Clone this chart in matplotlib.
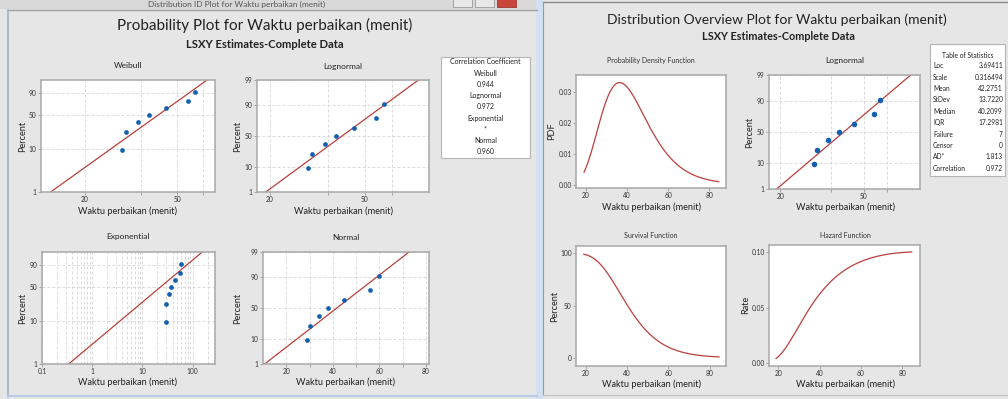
import math
import numpy as np
import matplotlib
matplotlib.use('Agg')
import matplotlib.pyplot as plt
from matplotlib.patches import Rectangle
from matplotlib.ticker import NullLocator
from statistics import NormalDist

plt.rcParams['font.family'] = ['Lato', 'DejaVu Sans']

# waktu perbaikan (menit) dan posisi plot (median rank, %)
waktu = np.array([29, 30, 34, 38, 45, 56, 60])
persen = np.array([9.46, 22.97, 36.49, 50.0, 63.51, 77.03, 90.54])

# estimasi LSXY lognormal
loc, scale = 3.69411, 0.316494

kor_nama = ['Weibull', 'Lognormal', 'Exponential', 'Normal']
kor_nilai = ['0.944', '0.972', '*', '0.960']

stat_nama = ['Loc', 'Scale', 'Mean', 'StDev', 'Median', 'IQR', 'Failure',
             'Censor', 'AD*', 'Correlation']
stat_nilai = ['3.69411', '0.316494', '42.2751', '13.7220', '40.2099',
              '17.2981', '7', '0', '1.813', '0.972']

pct_ticks = [1, 10, 50, 90, 99]

W, H = 1008, 399
BG = '#e6e6e6'
MERAH = '#b8403c'
BIRU = '#1360b0'
nd = NormalDist()


def kotak(l, t, r, b):
    return [l / W, 1 - b / H, (r - l) / W, (b - t) / H]


def z_norm(p):
    return np.array([nd.inv_cdf(v / 100) for v in np.atleast_1d(p)])


def z_weib(p):
    p = np.asarray(p, dtype=float) / 100
    return np.log(-np.log(1 - p))


def phi(z):
    return 0.5 * (1 + np.vectorize(math.erf)(z / math.sqrt(2)))


fig = plt.figure(figsize=(W / 100, H / 100), dpi=100, facecolor=BG)


def tulis(x, y, s, size=6, **kw):
    kw.setdefault('ha', 'center')
    kw.setdefault('va', 'center')
    kw.setdefault('color', '#222222')
    fig.text(x / W, 1 - y / H, s, fontsize=size, **kw)


def garis(x0, y0, x1, y1, c, lw=1.0):
    fig.add_artist(plt.Line2D([x0 / W, x1 / W], [1 - y0 / H, 1 - y1 / H],
                              color=c, lw=lw, transform=fig.transFigure))


def blok(l, t, r, b, fc, ec='none', lw=0.8):
    fig.add_artist(Rectangle((l / W, 1 - b / H), (r - l) / W, (b - t) / H,
                             transform=fig.transFigure, fc=fc, ec=ec, lw=lw))


# --- bingkai jendela ---
blok(0, 0, 537, 9, '#d8d8d8')
tulis(237, 4.5, 'Distribution ID Plot for Waktu perbaikan (menit)', size=6,
      color='#555555')
blok(453, -1, 472, 7, '#e8e8e8', '#9a9a9a', 0.6)
blok(475, -1, 494, 7, '#e8e8e8', '#9a9a9a', 0.6)
blok(497, -1, 516, 7, '#c7453a', '#9a3a32', 0.6)
garis(8, 10, 537, 10, '#a0a0a0', 1.0)
garis(8, 10, 8, 397, '#9fb4cc', 1.2)
garis(8, 396, 537, 396, '#b9cde4', 1.5)
blok(536, 0, 543, 399, '#d2e0ef')
garis(543, 2, 1008, 2, '#8a8a8a', 1.0)
garis(543, 2, 543, 395, '#9a9a9a', 0.8)
garis(543, 395, 1008, 395, '#c4c4c4', 1.0)


def gaya(ax, grid=True):
    ax.set_facecolor('white')
    for s in ax.spines.values():
        s.set_color('#a8a8a8')
        s.set_linewidth(1.1)
    ax.tick_params(labelsize=4.8, length=2, width=0.5, color='#8a8a8a',
                   pad=1.2, labelcolor='#333333')
    ax.xaxis.set_minor_locator(NullLocator())
    if grid:
        ax.grid(True, ls=(0, (3.5, 2.5)), color='#d4d4d4', lw=0.6)
        ax.set_axisbelow(True)


def sumbu_y_persen(ax, ztrans, ticks, bawah=1, atas=99):
    ax.set_yticks(ztrans(ticks))
    ax.set_yticklabels([str(t) for t in ticks])
    ax.set_ylim(ztrans([bawah])[0], ztrans([atas])[0])


pp = np.linspace(0.3, 99.8, 400)

# --- Weibull ---
ax = fig.add_axes(kotak(41, 80, 215, 192))
gaya(ax)
b, a = np.polyfit(z_weib(persen), np.log(waktu), 1)
ax.set_xscale('log')
ax.plot(np.exp(a + b * z_weib(pp)), z_weib(pp), color=MERAH, lw=0.9)
ax.plot(waktu, z_weib(persen), 'o', ms=3.4, color=BIRU, mec='none')
ax.set_xlim(12.9, 73)
ax.set_xticks([20, 35, 50, 65])
ax.set_xticklabels(['20', '', '50', ''])
ax.xaxis.set_minor_locator(NullLocator())
sumbu_y_persen(ax, z_weib, [1, 10, 50, 90])


# --- Lognormal ---
def plot_lognormal(ax, ms=3.4):
    gaya(ax)
    ax.set_xscale('log')
    ax.plot(np.exp(loc + scale * z_norm(pp)), z_norm(pp), color=MERAH, lw=0.9)
    ax.plot(waktu, z_norm(persen), 'o', ms=ms, color=BIRU, mec='none')
    ax.set_xlim(17.7, 93)
    ax.set_xticks([20, 35, 50, 65])
    ax.set_xticklabels(['20', '', '50', ''])
    ax.xaxis.set_minor_locator(NullLocator())
    sumbu_y_persen(ax, z_norm, pct_ticks)


plot_lognormal(fig.add_axes(kotak(257, 80, 429, 192)))

# --- Exponential ---
ax = fig.add_axes(kotak(42, 252, 215, 364))
gaya(ax)
ax.set_xscale('log')
u = -np.log(1 - persen / 100)
theta = np.sum(waktu * u) / np.sum(u * u)
ax.plot(theta * -np.log(1 - pp / 100), z_weib(pp), color=MERAH, lw=0.9)
ax.plot(waktu, z_weib(persen), 'o', ms=3.4, color=BIRU, mec='none')
ax.set_xlim(0.1, 280)
ax.set_xticks([0.1, 1, 10, 100])
ax.set_xticklabels(['0.1', '1', '10', '100'])
minor = [m * 10.0 ** e for e in range(-1, 3) for m in range(2, 10)]
ax.set_xticks([v for v in minor if v < 280], minor=True)
ax.tick_params(which='minor', length=0)
ax.grid(True, which='both', ls=(0, (3.5, 2.5)), color='#d4d4d4', lw=0.6)
sumbu_y_persen(ax, z_weib, [1, 10, 50, 90])

# --- Normal ---
ax = fig.add_axes(kotak(263, 252, 429, 364))
gaya(ax)
b, a = np.polyfit(z_norm(persen), waktu, 1)
ax.plot(a + b * z_norm(pp), z_norm(pp), color=MERAH, lw=0.9)
ax.plot(waktu, z_norm(persen), 'o', ms=3.4, color=BIRU, mec='none')
ax.set_xlim(10, 81.3)
ax.set_xticks([20, 30, 40, 50, 60, 70, 80])
ax.set_xticklabels(['20', '', '40', '', '60', '', '80'])
sumbu_y_persen(ax, z_norm, pct_ticks)

# judul dan label jendela kiri
tulis(265, 25, 'Probability Plot for Waktu perbaikan (menit)', size=11)
tulis(265, 44, 'LSXY Estimates-Complete Data', size=8.1, weight='bold')
for cx, cy, judul in [(128, 66, 'Weibull'), (343, 66, 'Lognormal'),
                      (128, 237, 'Exponential'), (346, 237, 'Normal')]:
    tulis(cx, cy, judul, size=6)
for cx, cy in [(128, 211), (343, 211), (128, 382), (346, 382)]:
    tulis(cx, cy, 'Waktu perbaikan (menit)', size=6.6)
for cx, cy in [(23, 136), (238, 136), (23, 308), (238, 308)]:
    tulis(cx, cy, 'Percent', size=6.6, rotation=90)

# kotak koefisien korelasi
blok(441, 57, 530, 158, 'white', '#b4b4b4', 0.8)
baris = ['Correlation Coefficient']
for n, v in zip(kor_nama, kor_nilai):
    baris += [n, v]
for i, s in enumerate(baris):
    tulis(485.5, 62 + i * 11.2, s, size=5)

# --- jendela kanan: fungsi lognormal ---
xs = np.linspace(19, 84.5, 300)
zs = (np.log(xs) - loc) / scale
pdf = np.exp(-zs ** 2 / 2) / (xs * scale * math.sqrt(2 * math.pi))
surv = 1 - phi(zs)
hazard = pdf / surv

ax = fig.add_axes(kotak(576, 75, 726, 188))
gaya(ax, grid=False)
ax.plot(xs, pdf, color=MERAH, lw=0.9)
ax.set_xlim(15.1, 88.2)
ax.set_ylim(-0.0011, 0.0354)
ax.set_xticks([20, 40, 60, 80])
ax.set_yticks([0, 0.01, 0.02, 0.03])
ax.set_yticklabels(['0.00', '0.01', '0.02', '0.03'])

plot_lognormal(fig.add_axes(kotak(769, 75, 920, 189)), ms=4)

ax = fig.add_axes(kotak(576, 246, 726, 366))
gaya(ax, grid=False)
ax.plot(xs, surv * 100, color=MERAH, lw=0.9)
ax.set_xlim(15.2, 87.9)
ax.set_ylim(-7.7, 107)
ax.set_xticks([20, 40, 60, 80])
ax.set_yticks([0, 50, 100])

ax = fig.add_axes(kotak(769, 245, 920, 366))
gaya(ax, grid=False)
ax.plot(xs, hazard, color=MERAH, lw=0.9)
ax.set_xlim(15.6, 88.5)
ax.set_ylim(-0.0027, 0.1066)
ax.set_xticks([20, 40, 60, 80])
ax.set_yticks([0, 0.05, 0.10])
ax.set_yticklabels(['0.00', '0.05', '0.10'])

tulis(777, 20, 'Distribution Overview Plot for Waktu perbaikan (menit)', size=10)
tulis(779, 37, 'LSXY Estimates-Complete Data', size=7.8, weight='bold')
tulis(651, 61, 'Probability Density Function', size=5, color='#333333')
tulis(845, 60, 'Lognormal', size=6)
tulis(651, 236, 'Survival Function', size=5, color='#333333')
tulis(845, 236, 'Hazard Function', size=5, color='#333333')
for cx, cy in [(651, 207), (845, 207), (651, 384), (845, 384)]:
    tulis(cx, cy, 'Waktu perbaikan (menit)', size=6.6)
tulis(552, 131.5, 'PDF', size=6.6, rotation=90)
tulis(750, 132, 'Percent', size=6.6, rotation=90)
tulis(555, 306, 'Percent', size=6.6, rotation=90)
tulis(746, 305, 'Rate', size=6.6, rotation=90)

# tabel statistik
blok(930, 44, 1005, 176, 'white', '#b4b4b4', 0.8)
tulis(967.5, 55, 'Table of Statistics', size=4.8)
for i, (n, v) in enumerate(zip(stat_nama, stat_nilai)):
    y = 65.7 + i * 11.4
    tulis(933, y, n, size=4.8, ha='left')
    tulis(1003, y, v, size=4.8, ha='right')

fig.savefig('out.png', dpi=100, facecolor=BG)
